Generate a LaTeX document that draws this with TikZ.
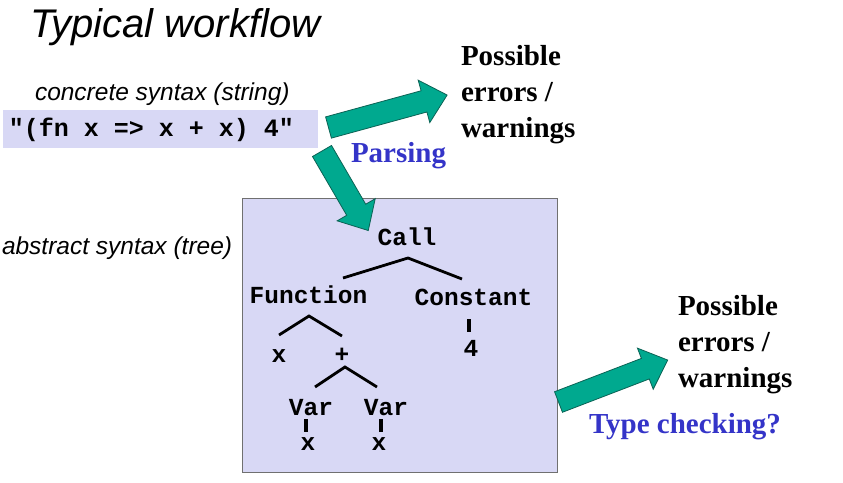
\documentclass[tikz,border=0pt]{standalone}
\usepackage{fontspec}
\setmainfont{Liberation Serif}
\newfontfamily\arialf{Liberation Sans}
\newfontfamily\courf{Liberation Mono}
\definecolor{lav}{HTML}{D8D8F5}
\definecolor{teal1}{HTML}{00A98F}
\definecolor{tealdark}{HTML}{0B6254}
\definecolor{blue1}{HTML}{3434C8}
\definecolor{boxgray}{HTML}{707070}
\tikzset{
  every node/.style={inner sep=0pt, outer sep=0pt},
  sanslabel/.style={font=\arialf\itshape\fontsize{24.5}{29}\selectfont, anchor=base west},
  errtext/.style={font=\bfseries\fontsize{29}{36}\selectfont, anchor=north west, align=left},
  steplabel/.style={font=\bfseries\fontsize{29}{35}\selectfont, text=blue1, anchor=base west},
  treelabel/.style={font=\courf\bfseries\fontsize{24.5}{29}\selectfont, anchor=base},
  treeline/.style={line width=2.8pt, black},
  tickline/.style={line width=3.4pt, black},
  arrowbody/.style={fill=teal1, draw=tealdark, line width=0.8pt, line join=miter},
  pics/blockarr/.style={code={
    \draw[arrowbody] (0,-11) -- ({#1-24},-11) -- ({#1-24},-22) -- (#1,0)
      -- ({#1-24},22) -- ({#1-24},11) -- (0,11) -- cycle;}}
}
\begin{document}
\begin{tikzpicture}[x=1pt,y=-1pt]
\useasboundingbox (0,0) rectangle (843,482);

% title
\node[font=\arialf\itshape\fontsize{40}{48}\selectfont, anchor=base west] (title) at (30,37) {Typical workflow};

% concrete syntax
\node[sanslabel] (conclabel) at (35,100) {concrete syntax (string)};
\fill[lav] (3,110) rectangle (318,148);
\node[font=\courf\bfseries\fontsize{25}{30}\selectfont, anchor=base west] (code) at (9,136) {"(fn x => x + x) 4"};

% tree box
\draw[fill=lav, draw=boxgray, line width=1pt] (242,198) rectangle (557,472);
\node[sanslabel] (abslabel) at (2,254) {abstract syntax (tree)};

% arrows
\pic[shift={(328.5,127.5)}, rotate=15.3] {blockarr=123};
\pic[shift={(322,151)}, rotate=-59.8] {blockarr=92};
\pic[shift={(558.5,402)}, rotate=21] {blockarr=117};

% error texts
\node[errtext] (err1) at (461,45) {Possible\\errors /\\warnings};
\node[errtext] (err2) at (678,295) {Possible\\errors /\\warnings};
\node[steplabel] (parsing) at (351,162) {Parsing};
\node[steplabel] (typecheck) at (589,433) {Type checking?};

% tree
\node[treelabel] (call) at (407,245) {Call};
\node[treelabel] (func) at (308.5,303) {Function};
\node[treelabel] (const) at (473.5,305) {Constant};
\node[treelabel] (fx) at (279,362) {x};
\node[treelabel] (plus) at (342,362) {+};
\node[treelabel] (four) at (471,356) {4};
\node[treelabel] (var1) at (311,415) {Var};
\node[treelabel] (var2) at (386,415) {Var};
\node[treelabel] (x1) at (308,450) {x};
\node[treelabel] (x2) at (379,450) {x};

\coordinate (callA) at (408,258);
\coordinate (callL) at (343,278);
\coordinate (callR) at (462,279);
\coordinate (funcA) at (309,316);
\coordinate (funcL) at (279,335);
\coordinate (funcR) at (342,336);
\coordinate (plusA) at (345,367);
\coordinate (plusL) at (315,387);
\coordinate (plusR) at (377,387);
\coordinate (constT) at (469,319);
\coordinate (constB) at (469,332);
\coordinate (v1T) at (306,419);
\coordinate (v1B) at (306,432);
\coordinate (v2T) at (381,419);
\coordinate (v2B) at (381,432);

\draw[treeline] (callL) -- (callA) -- (callR);
\draw[treeline] (funcL) -- (funcA) -- (funcR);
\draw[treeline] (plusL) -- (plusA) -- (plusR);
\draw[tickline] (constT) -- (constB);
\draw[tickline] (v1T) -- (v1B);
\draw[tickline] (v2T) -- (v2B);
\end{tikzpicture}
\end{document}
